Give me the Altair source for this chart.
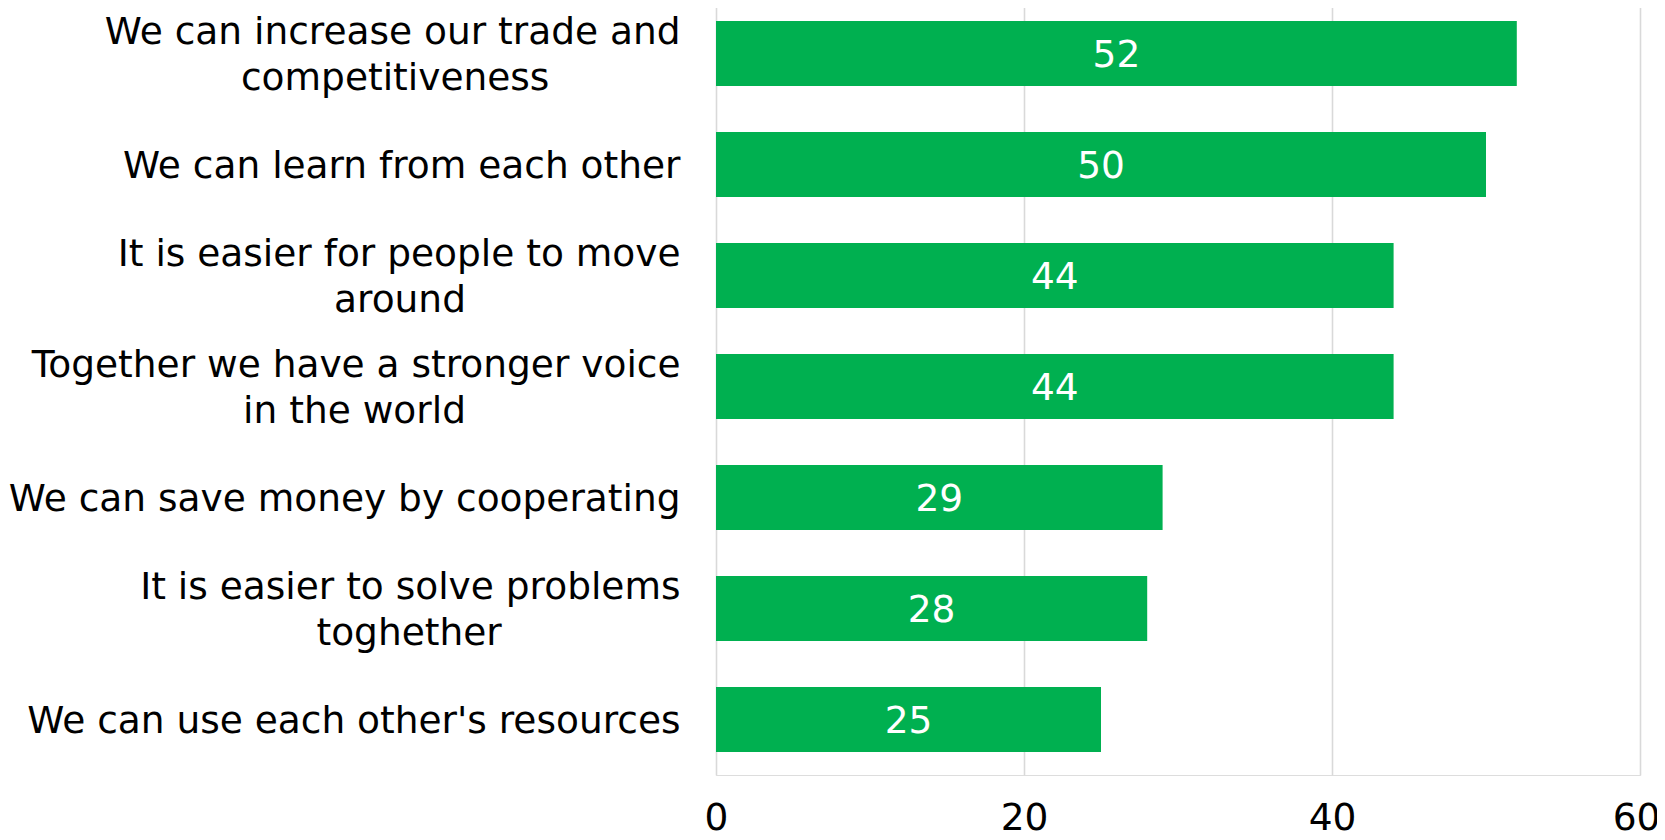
import altair as alt
import pandas as pd

NB = "\u00a0"
END = "\u200b"  # keeps the padding from being trimmed

# label lines (second line padded with non-breaking spaces so that it sits centred under the first)
categories = [
    "We can increase our trade and|competitiveness" + NB * 11 + END,
    "We can learn from each other",
    "It is easier for people to move|around" + NB * 18 + END,
    "Together we have a stronger voice|in the world" + NB * 18 + END,
    "We can save money by cooperating",
    "It is easier to solve problems|toghether" + NB * 15 + END,
    "We can use each other's resources",
]
values = [52, 50, 44, 44, 29, 28, 25]
x_ticks = [0, 20, 40, 60]

df = pd.DataFrame({"cat": categories, "value": values})

FONT = "DejaVu Sans"
GREEN = "#00B050"
FS = 37.5

y_enc = alt.Y(
    "cat:N",
    sort=None,
    scale=alt.Scale(paddingInner=0.413, paddingOuter=0.2065),
    axis=alt.Axis(
        title=None,
        labelExpr="split(datum.label, '|')",
        labelFont=FONT,
        labelFontSize=FS,
        labelColor="#000000",
        labelLineHeight=46,
        labelAlign="right",
        labelBaseline="middle",
        labelPadding=36,
        labelLimit=0,
        labelOffset={
            "condition": {"test": "indexof(datum.value, '|') >= 0", "value": -21},
            "value": 2,
        },
        ticks=False,
        domain=False,
        grid=False,
    ),
)

bars = alt.Chart(df).mark_bar(color=GREEN).encode(
    x=alt.X(
        "value:Q",
        scale=alt.Scale(domain=[0, 60], nice=False),
        axis=alt.Axis(
            title=None,
            values=x_ticks,
            labelFont=FONT,
            labelFontSize=FS,
            labelColor="#000000",
            labelPadding=24,
            labelFlush=False,
            labelOffset={
                "condition": {"test": "datum.value == 60", "value": -4},
                "value": 0,
            },
            ticks=False,
            domain=False,
            grid=True,
            gridColor="#d9d9d9",
            gridWidth=1.6,
        ),
    ),
    y=y_enc,
)

text = alt.Chart(df).transform_calculate(mid="datum.value / 2").mark_text(
    color="white", font=FONT, fontSize=FS, baseline="middle", align="center", dy=2
).encode(
    x=alt.X("mid:Q"),
    y=alt.Y("cat:N", sort=None),
    text=alt.Text("value:Q"),
)

chart = (
    alt.layer(bars, text)
    .properties(
        width=924,
        height=777,
        autosize=alt.AutoSizeParams(type="none"),
        padding={"left": 708, "top": -10, "right": 17, "bottom": 57},
    )
    .configure_view(stroke=None)
    .configure(background="white")
)

chart.save("out.html", embed_options={"renderer": "svg", "actions": False})
